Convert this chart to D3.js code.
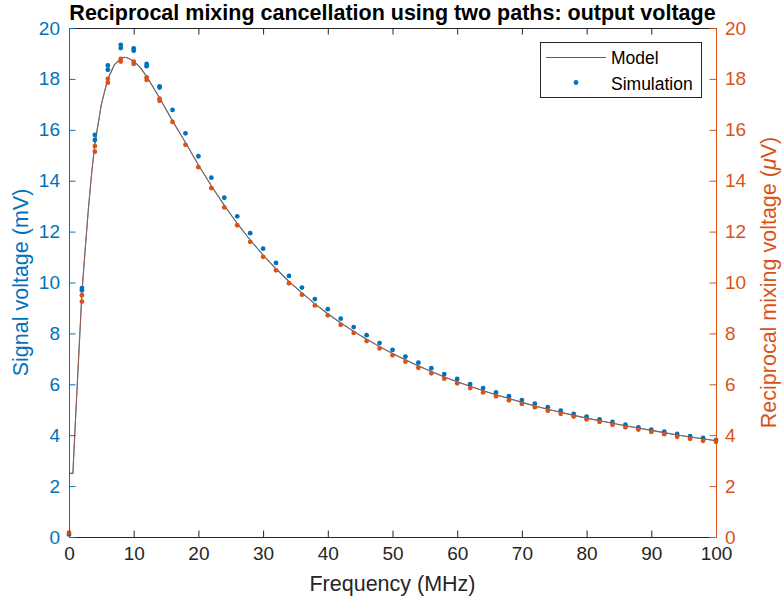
<!DOCTYPE html>
<html>
<head>
<meta charset="utf-8">
<script src="https://cdn.jsdelivr.net/npm/d3@7"></script>
<style>
  body { margin: 0; background: #fff; }
  svg { font-family: "Liberation Sans", Arial, Helvetica, sans-serif; }
</style>
</head>
<body>
<svg id="chart" width="782" height="608"></svg>
<script>
// model curve (same shape on both axes)
var modelFreq = [0, 0.6, 1, 1.5, 2, 2.5, 3, 3.5, 4, 5, 6, 7, 8, 8.5, 9, 10, 11, 12, 14, 16, 18, 20,
  22, 24, 26, 28, 30, 32, 34, 36, 38, 40, 42, 44, 46, 48, 50, 52, 54, 56, 58, 60,
  62, 64, 66, 68, 70, 72, 74, 76, 78, 80, 82, 84, 86, 88, 90, 92, 94, 96, 98, 100];
var modelSignal = [2.5, 2.5, 4.6, 7.1, 9.6, 11.3, 12.9, 14.3, 15.45, 17.0, 18.0, 18.55, 18.8, 18.85, 18.83, 18.7, 18.45, 18.1, 17.25, 16.35, 15.5, 14.62,
  13.8, 13.03, 12.32, 11.67, 11.08, 10.54, 10.04, 9.59, 9.16, 8.77, 8.41, 8.08, 7.77, 7.48, 7.21, 6.96, 6.72, 6.50, 6.29, 6.10,
  5.92, 5.75, 5.59, 5.44, 5.29, 5.15, 5.02, 4.90, 4.78, 4.67, 4.57, 4.47, 4.37, 4.28, 4.19, 4.10, 4.01, 3.93, 3.86, 3.78];
var modelRecip = modelSignal;

// simulation points (two runs overlap at low frequency)
var simFreq = [0, 2, 2, 4, 4, 6, 6, 8, 8, 10, 10, 12, 12, 14, 14, 16, 18, 20, 22, 24, 26, 28, 30, 32, 34, 36, 38, 40,
  42, 44, 46, 48, 50, 52, 54, 56, 58, 60, 62, 64, 66, 68, 70, 72, 74, 76, 78, 80, 82, 84, 86, 88, 90, 92, 94, 96, 98, 100];
var simSignal = [0.1, 9.78, 9.7, 15.8, 15.6, 18.53, 18.36, 19.34, 19.21, 19.2, 19.11, 18.59, 18.5, 17.71, 17.66, 16.78, 15.86, 14.96, 14.12, 13.33, 12.6, 11.94, 11.33, 10.77, 10.26, 9.8, 9.35, 8.95,
  8.58, 8.25, 7.93, 7.62, 7.35, 7.09, 6.85, 6.63, 6.4, 6.21, 6.01, 5.85, 5.68, 5.53, 5.38, 5.24, 5.1, 4.96, 4.84, 4.73, 4.62, 4.52, 4.41, 4.31, 4.22, 4.14, 4.05, 3.96, 3.89, 3.81];
var simRecip = [0.17, 9.5, 9.25, 15.36, 15.14, 18.0, 17.85, 18.79, 18.68, 18.68, 18.59, 18.06, 17.96, 17.22, 17.14, 16.31, 15.41, 14.53, 13.71, 12.95, 12.25, 11.6, 11.01, 10.48, 9.97, 9.52, 9.1, 8.71,
  8.34, 8.02, 7.7, 7.41, 7.14, 6.89, 6.65, 6.43, 6.22, 6.04, 5.85, 5.68, 5.53, 5.37, 5.23, 5.1, 4.96, 4.84, 4.73, 4.62, 4.52, 4.41, 4.31, 4.22, 4.13, 4.04, 3.94, 3.86, 3.78, 3.74];

var xTicks = [0, 10, 20, 30, 40, 50, 60, 70, 80, 90, 100];
var yTicks = [0, 2, 4, 6, 8, 10, 12, 14, 16, 18, 20];

var blue = "#0072BD";
var orange = "#D95319";
var dark = "#262626";

var svg = d3.select("#chart");
var plotLeft = 69, plotRight = 716, plotTop = 28, plotBottom = 537;
var tickLen = 6.5;
var tickFont = 19;
var labelFont = 21.5;

var x = d3.scaleLinear().domain([0, 100]).range([plotLeft, plotRight]);
var yL = d3.scaleLinear().domain([0, 20]).range([plotBottom, plotTop]);
var yR = d3.scaleLinear().domain([0, 20]).range([plotBottom, plotTop]);

function modelPath(ys, scale) {
  return d3.line()
    .x(function (d, i) { return x(modelFreq[i]); })
    .y(function (d) { return scale(d); })(ys);
}

// model lines
svg.append("path")
  .attr("d", modelPath(modelSignal, yL))
  .attr("fill", "none")
  .attr("stroke", blue)
  .attr("stroke-width", 1.1);
svg.append("path")
  .attr("d", modelPath(modelRecip, yR))
  .attr("fill", "none")
  .attr("stroke", orange)
  .attr("stroke-width", 1)
  .attr("stroke-opacity", 0.75);

// simulation dots
svg.append("g").selectAll("circle")
  .data(simSignal)
  .enter()
  .append("circle")
  .attr("cx", function (d, i) { return x(simFreq[i]); })
  .attr("cy", function (d) { return yL(d); })
  .attr("r", 2.4)
  .attr("fill", blue);
svg.append("g").selectAll("circle")
  .data(simRecip)
  .enter()
  .append("circle")
  .attr("cx", function (d, i) { return x(simFreq[i]); })
  .attr("cy", function (d) { return yR(d); })
  .attr("r", 2.4)
  .attr("fill", orange);

// bottom axis
var xAxis = svg.append("g")
  .attr("transform", "translate(0," + plotBottom + ")")
  .call(d3.axisBottom(x).tickValues(xTicks).tickSizeInner(-tickLen).tickSizeOuter(0).tickPadding(10));
xAxis.select(".domain").attr("stroke", dark);
xAxis.selectAll(".tick line").attr("stroke", dark);
xAxis.selectAll(".tick text").attr("fill", dark).attr("font-size", tickFont)
  .attr("font-family", "Liberation Sans, Arial, sans-serif");

// top border with ticks
var xTop = svg.append("g")
  .attr("transform", "translate(0," + plotTop + ")")
  .call(d3.axisTop(x).tickValues(xTicks).tickSizeInner(-tickLen).tickSizeOuter(0).tickFormat(""));
xTop.select(".domain").attr("stroke", dark);
xTop.selectAll(".tick line").attr("stroke", dark);

// left axis
var yAxisL = svg.append("g")
  .attr("transform", "translate(" + plotLeft + ",0)")
  .call(d3.axisLeft(yL).tickValues(yTicks).tickSizeInner(-tickLen).tickSizeOuter(0).tickPadding(9));
yAxisL.select(".domain").attr("stroke", blue);
yAxisL.selectAll(".tick line").attr("stroke", blue);
yAxisL.selectAll(".tick text").attr("fill", blue).attr("font-size", tickFont)
  .attr("font-family", "Liberation Sans, Arial, sans-serif");

// right axis
var yAxisR = svg.append("g")
  .attr("transform", "translate(" + plotRight + ",0)")
  .call(d3.axisRight(yR).tickValues(yTicks).tickSizeInner(-tickLen).tickSizeOuter(0).tickPadding(9));
yAxisR.select(".domain").attr("stroke", orange);
yAxisR.selectAll(".tick line").attr("stroke", orange);
yAxisR.selectAll(".tick text").attr("fill", orange).attr("font-size", tickFont)
  .attr("font-family", "Liberation Sans, Arial, sans-serif");

// title
svg.append("text")
  .attr("x", (plotLeft + plotRight) / 2)
  .attr("y", 19.5)
  .attr("text-anchor", "middle")
  .attr("font-size", 21.5)
  .attr("font-weight", "bold")
  .attr("fill", "#000")
  .text("Reciprocal mixing cancellation using two paths: output voltage");

// axis labels
svg.append("text")
  .attr("x", (plotLeft + plotRight) / 2)
  .attr("y", 591)
  .attr("text-anchor", "middle")
  .attr("font-size", labelFont)
  .attr("fill", dark)
  .text("Frequency (MHz)");

svg.append("text")
  .attr("transform", "translate(28," + (plotTop + plotBottom) / 2 + ") rotate(-90)")
  .attr("text-anchor", "middle")
  .attr("font-size", labelFont)
  .attr("fill", blue)
  .text("Signal voltage (mV)");

var rLabel = svg.append("text")
  .attr("transform", "translate(776," + (plotTop + plotBottom) / 2 + ") rotate(-90)")
  .attr("text-anchor", "middle")
  .attr("font-size", labelFont)
  .attr("fill", orange);
rLabel.append("tspan").text("Reciprocal mixing voltage (");
rLabel.append("tspan").attr("font-style", "italic").text("\u03bc");
rLabel.append("tspan").text("V)");

// legend
var lg = svg.append("g");
lg.append("rect")
  .attr("x", 540.5).attr("y", 42.5)
  .attr("width", 161).attr("height", 55)
  .attr("fill", "#fff")
  .attr("stroke", dark)
  .attr("stroke-width", 1);
lg.append("line")
  .attr("x1", 546).attr("x2", 606)
  .attr("y1", 57.5).attr("y2", 57.5)
  .attr("stroke", blue).attr("stroke-width", 1);
lg.append("circle")
  .attr("cx", 576).attr("cy", 82.5).attr("r", 2.4)
  .attr("fill", blue);
lg.append("text")
  .attr("x", 611).attr("y", 63.5)
  .attr("font-size", 17.5).attr("fill", "#000")
  .text("Model");
lg.append("text")
  .attr("x", 611).attr("y", 90)
  .attr("font-size", 17.5).attr("fill", "#000")
  .text("Simulation");
</script>
</body>
</html>
